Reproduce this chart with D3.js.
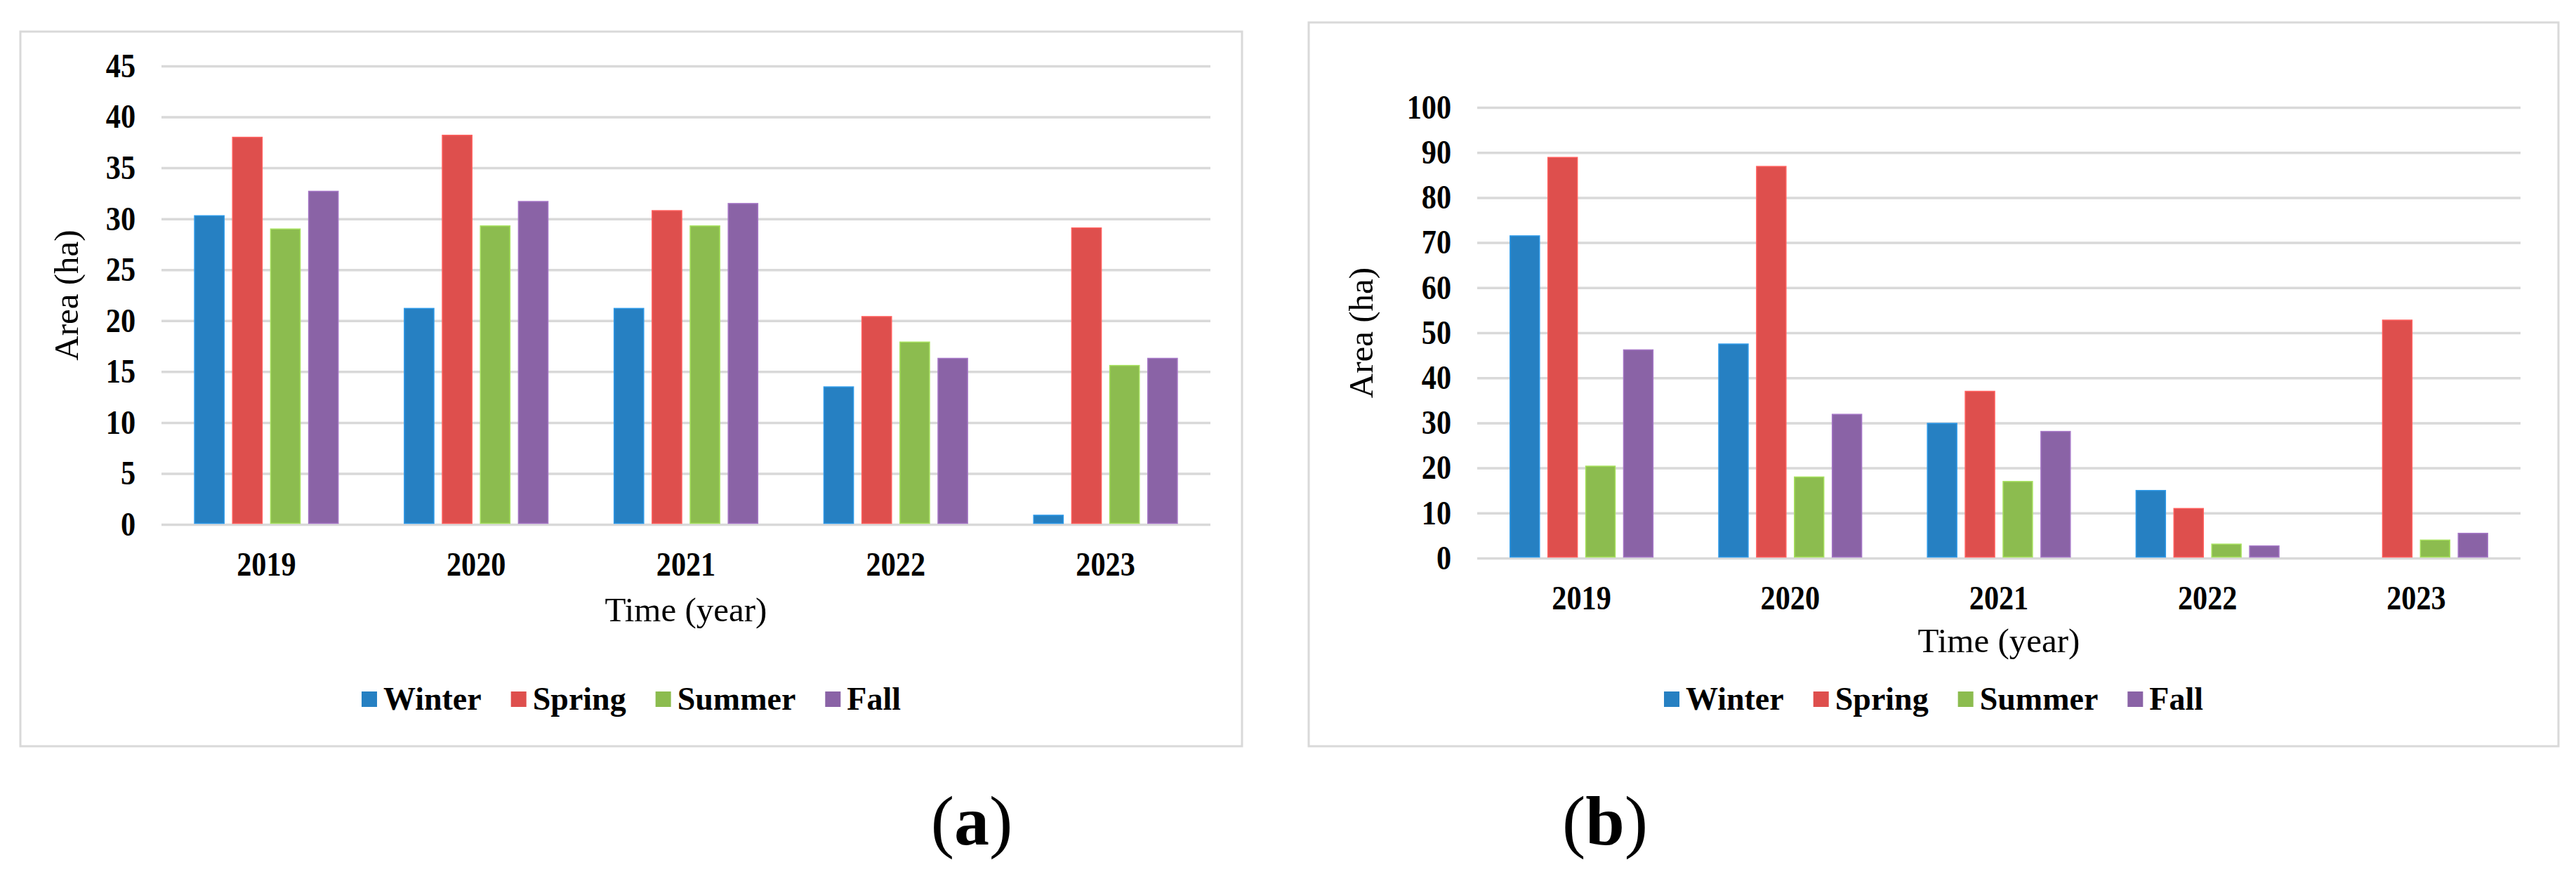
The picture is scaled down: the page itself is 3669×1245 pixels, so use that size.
<!DOCTYPE html>
<html>
<head>
<meta charset="utf-8">
<script src="https://cdn.jsdelivr.net/npm/d3@7"></script>
<style>
  body { margin: 0; background: #fff; }
  svg { display: block; font-family: "Liberation Serif", "Times New Roman", serif; }
</style>
</head>
<body>
<div id="chart"></div>
<script>
// data
const years = ["2019", "2020", "2021", "2022", "2023"];
const seasons = ["Winter", "Spring", "Summer", "Fall"];
const colors = ["#2680C2", "#DE4F4D", "#8CBC4F", "#8A63A6"];

// panel (a)
const winterA = [30.3, 21.2, 21.2, 13.5, 0.9];
const springA = [38.0, 38.2, 30.8, 20.4, 29.1];
const summerA = [29.0, 29.3, 29.3, 17.9, 15.6];
const fallA   = [32.7, 31.7, 31.5, 16.3, 16.3];
const ticksA  = [0, 5, 10, 15, 20, 25, 30, 35, 40, 45];

// panel (b)
const winterB = [71.5, 47.5, 29.9, 15.0, 0];
const springB = [88.9, 86.9, 37.0, 11.0, 52.8];
const summerB = [20.4, 18.0, 17.0, 3.1, 4.0];
const fallB   = [46.2, 31.9, 28.1, 2.7, 5.5];
const ticksB  = [0, 10, 20, 30, 40, 50, 60, 70, 80, 90, 100];

const W = 3669, H = 1245;
const grid = "#D9D9D9";
const squeeze = 0.88; // tick digits in the picture are a bit narrow

const svg = d3.select("#chart").append("svg")
  .attr("width", W)
  .attr("height", H);

svg.append("rect").attr("width", W).attr("height", H).attr("fill", "#fff");

function drawPanel(cfg) {
  const g = svg.append("g");
  const series = cfg.series;

  // outer frame
  g.append("rect")
    .attr("x", cfg.box.x).attr("y", cfg.box.y)
    .attr("width", cfg.box.w).attr("height", cfg.box.h)
    .attr("fill", "#fff")
    .attr("stroke", grid)
    .attr("stroke-width", 3);

  const y = d3.scaleLinear()
    .domain([0, d3.max(cfg.ticks)])
    .range([cfg.bottom, cfg.top]);

  const x0 = d3.scaleBand()
    .domain(years)
    .range([cfg.left, cfg.right]);

  const groupW = x0.bandwidth() * 0.685;
  const x1 = d3.scaleBand()
    .domain(seasons)
    .range([0, groupW])
    .paddingInner(12 / 54);

  const yAxis = d3.axisLeft(y)
    .tickValues(cfg.ticks)
    .tickSize(-(cfg.right - cfg.left))
    .tickPadding(37);

  const ya = g.append("g")
    .attr("transform", `translate(${cfg.left},0)`)
    .call(yAxis);
  ya.select(".domain").remove();
  ya.selectAll(".tick line").attr("stroke", grid).attr("stroke-width", 3.5);
  ya.selectAll(".tick text")
    .attr("fill", "#000")
    .attr("x", -37 / squeeze)
    .attr("transform", `scale(${squeeze},1)`)
    .style("font-family", "Liberation Serif")
    .style("font-size", "48px")
    .style("font-weight", "bold");

  const xAxis = d3.axisBottom(x0).tickSize(0).tickPadding(39);
  const xa = g.append("g")
    .attr("transform", `translate(0,${cfg.bottom})`)
    .call(xAxis);
  xa.select(".domain").remove();
  xa.selectAll(".tick text")
    .attr("fill", "#000")
    .attr("transform", `scale(${squeeze},1)`)
    .style("font-family", "Liberation Serif")
    .style("font-size", "48px")
    .style("font-weight", "bold");

  // bars
  const groups = g.selectAll("g.year")
    .data(years)
    .enter().append("g")
    .attr("class", "year")
    .attr("transform", d => `translate(${x0(d) + (x0.bandwidth() - groupW) / 2},0)`);

  groups.selectAll("rect")
    .data((d, i) => seasons.map((s, k) => ({ s: s, k: k, v: series[k][i] })))
    .enter().append("rect")
    .filter(d => d.v > 0)
    .attr("x", d => x1(d.s))
    .attr("y", d => y(d.v))
    .attr("width", x1.bandwidth())
    .attr("height", d => y(0) - y(d.v) - 1.5)
    .attr("fill", d => colors[d.k])
    .attr("stroke", d => d3.color(colors[d.k]).brighter(0.5))
    .attr("stroke-width", 1.5);

  // axis titles
  g.append("text")
    .attr("x", (cfg.left + cfg.right) / 2)
    .attr("y", cfg.xTitleY)
    .attr("text-anchor", "middle")
    .style("font-size", "49px")
    .text("Time (year)");

  g.append("text")
    .attr("transform", `translate(${cfg.yTitleX},${(cfg.top + cfg.bottom) / 2}) rotate(-90)`)
    .attr("text-anchor", "middle")
    .attr("dy", "0.35em")
    .style("font-size", "49px")
    .text("Area (ha)");

  // legend centred on the frame
  const leg = g.append("g");
  let cx = 0;
  seasons.forEach((s, k) => {
    leg.append("rect")
      .attr("x", cx).attr("y", -11)
      .attr("width", 22).attr("height", 22)
      .attr("fill", colors[k]);
    const t = leg.append("text")
      .attr("x", cx + 31)
      .attr("y", 15)
      .style("font-size", "46px")
      .style("font-weight", "bold")
      .text(s);
    cx += 31 + t.node().getComputedTextLength() + 42;
  });
  const legW = cx - 42;
  leg.attr("transform", `translate(${cfg.box.x + cfg.box.w / 2 - legW / 2},${cfg.legendY})`);

  // panel letter
  const lab = g.append("text")
    .attr("x", cfg.letterX)
    .attr("y", 1203)
    .attr("text-anchor", "middle")
    .style("font-size", "100px");
  lab.append("tspan").text("(");
  lab.append("tspan").style("font-weight", "bold").text(cfg.letter);
  lab.append("tspan").text(")");
}

drawPanel({
  series: [winterA, springA, summerA, fallA],
  ticks: ticksA,
  box: { x: 29, y: 45, w: 1740, h: 1018 },
  left: 230, right: 1724, top: 94, bottom: 747,
  xTitleY: 885, yTitleX: 94, legendY: 996,
  letter: "a", letterX: 1384
});

drawPanel({
  series: [winterB, springB, summerB, fallB],
  ticks: ticksB,
  box: { x: 1864, y: 32, w: 1780, h: 1031 },
  left: 2104, right: 3590, top: 153, bottom: 795,
  xTitleY: 929, yTitleX: 1938, legendY: 996,
  letter: "b", letterX: 2286
});
</script>
</body>
</html>
